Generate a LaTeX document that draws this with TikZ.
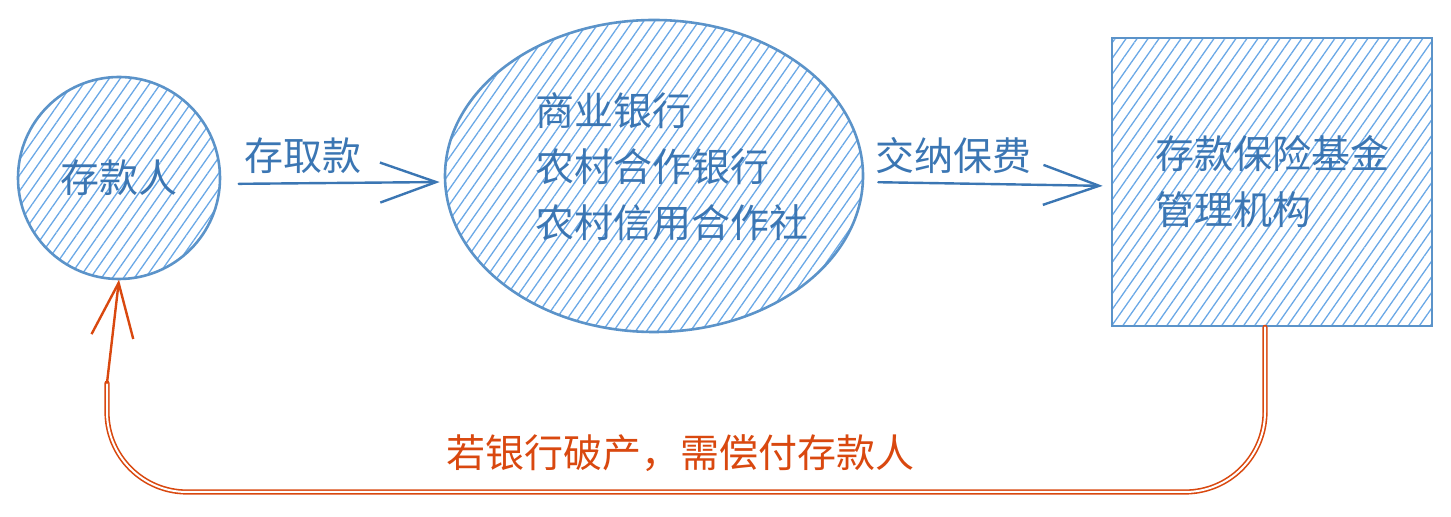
\documentclass[tikz,border=0pt]{standalone}
\usepackage{fontspec}
\setmainfont{Noto Sans CJK SC}
\usetikzlibrary{arrows.meta}
\usetikzlibrary{shapes.geometric}
\usetikzlibrary{patterns.meta}

\definecolor{lineblue}{HTML}{5B93C9}
\definecolor{hatchblue}{HTML}{6AA8E6}
\definecolor{textblue}{HTML}{3B76B3}
\definecolor{refundred}{HTML}{D9480F}

\begin{document}
\begin{tikzpicture}[x=0.5pt, y=-0.5pt, line cap=round,
    every node/.style={font=\fontsize{19.5}{28}\selectfont},
    hatched/.style={draw=lineblue, line width=1.3pt,
        pattern={Lines[angle=55, distance=4.5pt, line width=0.65pt]}, pattern color=hatchblue},
    bluetext/.style={text=textblue},
    flow/.style={draw=textblue, line width=1.2pt, -{Straight Barb[length=28pt, width=20pt]}},
    refund/.style={draw=refundred, line width=0.8pt, double=white, double distance=1pt}]
    \useasboundingbox (0,0) rectangle (1451,517);

    \node[hatched, circle, minimum size=101pt, bluetext] (person) at (119,178) {存款人};
    \node[hatched, ellipse, minimum width=209pt, minimum height=156pt] (bank) at (654,176) {};
    \node[bluetext, align=left, anchor=west, inner sep=0pt] (bankTxt) at (535,167)
        {商业银行\\农村合作银行\\农村信用合作社};
    \node[hatched, rectangle, minimum width=160pt, minimum height=144pt,
        bluetext, align=left] (fund) at (1272,182) {存款保险基金\\管理机构};

    \draw[flow, shorten <=9pt, shorten >=2pt] ([yshift=-3pt]person.east) -- ([yshift=-3pt]bank.west)
        node[pos=0.37, above=1pt, bluetext] (depLbl) {存取款};
    \draw[flow, shorten <=7pt, shorten >=4pt] ([yshift=-3pt]bank.east) -- ([yshift=-2pt]fund.west)
        node[pos=0.36, above=1pt, bluetext] (feeLbl) {交纳保费};

    \coordinate (loopR) at (1265,492);
    \coordinate (loopL) at (107,492);
    \coordinate (merge) at (107,383);
    \draw[refund, rounded corners=40pt] ([xshift=-3.5pt]fund.south) -- (loopR) -- (loopL) -- (merge);
    \draw[refundred, line width=1.2pt, -{Straight Barb[length=27pt, width=21pt]}] (merge) -- (person.south);

    \node[text=refundred] (refundLbl) at (680,453) {若银行破产，需偿付存款人};
\end{tikzpicture}
\end{document}
